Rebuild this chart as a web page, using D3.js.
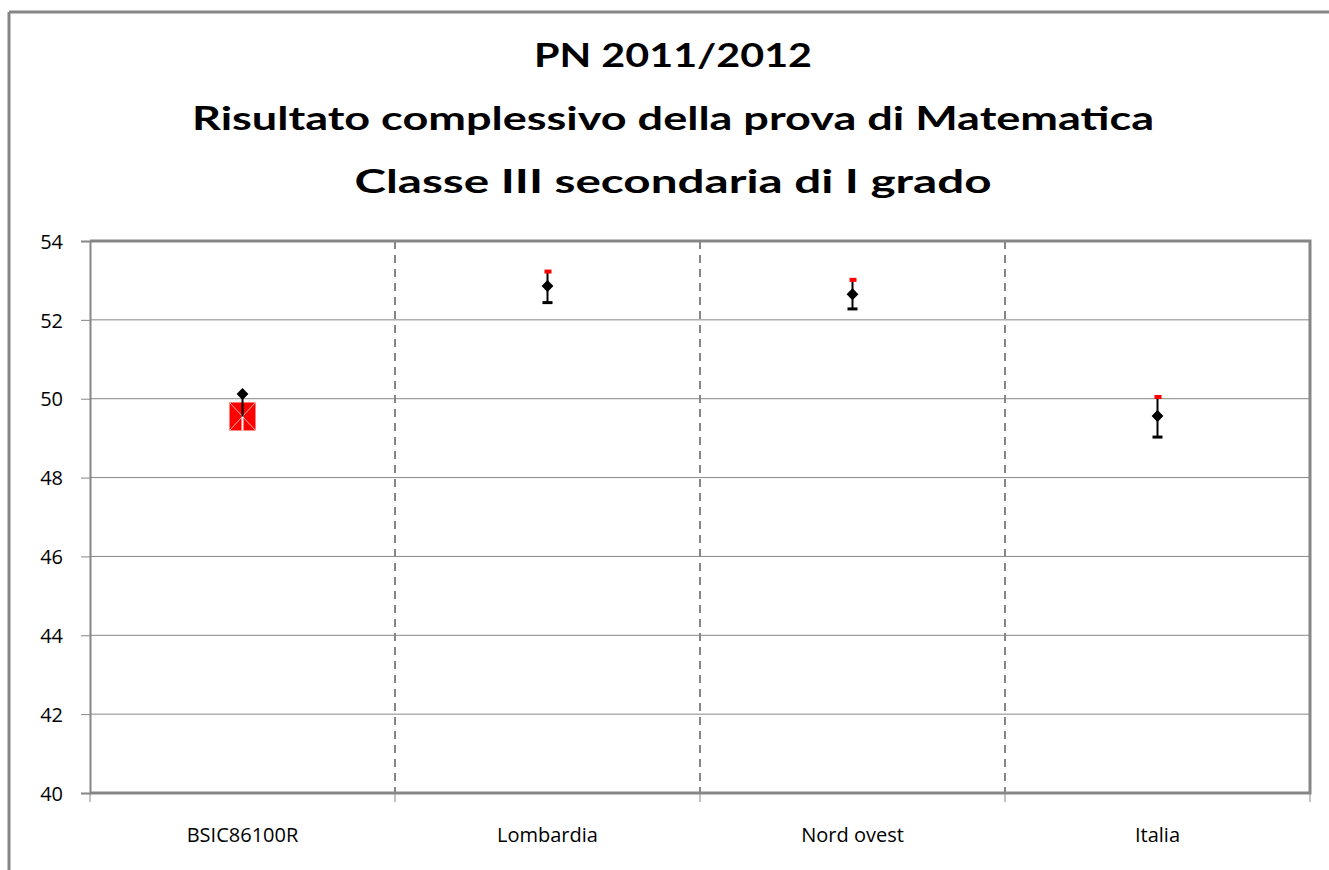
<!DOCTYPE html>
<html>
<head>
<meta charset="utf-8">
<script src="https://cdn.jsdelivr.net/npm/d3@7/dist/d3.min.js"></script>
<style>
body{ margin:0; background:white; }
text{ font-family:"Open Sans", sans-serif; fill:#000; }
</style>
</head>
<body>
<div id="chart"></div>
<script>
// values
var categories = ["BSIC86100R", "Lombardia", "Nord ovest", "Italia"];
var means  = [50.12, 52.86, 52.65, 49.56];
var lower  = [49.55, 52.45, 52.29, 49.04];
var upper  = [50.12, 53.25, 53.04, 50.07];
var school = [49.55, null, null, null];
var yTicks = [40, 42, 44, 46, 48, 50, 52, 54];
var titleLines = ["PN 2011/2012", "Risultato complessivo della prova di Matematica", "Classe III secondaria di I grado"];

var W = 1329, H = 870;
var m = {left: 90, top: 241, right: 1310, bottom: 793};
var grey = "#868686";

var svg = d3.select("#chart").append("svg").attr("width", W).attr("height", H);

// outer chart frame
svg.append("line").attr("x1", 9).attr("x2", 9).attr("y1", 12).attr("y2", H)
  .attr("stroke", grey).attr("stroke-width", 3);
svg.append("line").attr("x1", 9).attr("x2", W).attr("y1", 12).attr("y2", 12)
  .attr("stroke", grey).attr("stroke-width", 3);

// title
var titleWidths = [278, 962, 637];
svg.selectAll("text.title").data(titleLines).enter().append("text")
  .attr("class", "title")
  .attr("x", 673).attr("y", function(d, i){ return 67 + i * 63; })
  .attr("text-anchor", "middle")
  .style("font-family", "Lato").style("font-size", "32px").style("font-weight", "bold")
  .attr("textLength", function(d, i){ return titleWidths[i]; })
  .attr("lengthAdjust", "spacingAndGlyphs")
  .text(function(d){ return d; });

var x = d3.scaleBand().domain(categories).range([m.left, m.right]).padding(0);
var y = d3.scaleLinear().domain([40, 54]).range([m.bottom, m.top]);

// horizontal gridlines
svg.append("g").selectAll("line").data(yTicks.slice(1, -1)).enter().append("line")
  .attr("x1", m.left).attr("x2", m.right)
  .attr("y1", function(d){ return y(d); }).attr("y2", function(d){ return y(d); })
  .attr("stroke", grey).attr("stroke-width", 1);

// dashed separators between categories
svg.append("g").selectAll("line").data(categories.slice(1)).enter().append("line")
  .attr("x1", function(d){ return x(d); }).attr("x2", function(d){ return x(d); })
  .attr("y1", m.top).attr("y2", m.bottom)
  .attr("stroke", grey).attr("stroke-width", 2).attr("stroke-dasharray", "8,6");

// y axis
var yAxis = svg.append("g").attr("transform", "translate(" + m.left + ",0)")
  .call(d3.axisLeft(y).tickValues(yTicks).tickSize(9).tickPadding(18));
yAxis.select(".domain").attr("stroke", grey).attr("stroke-width", 2);
yAxis.selectAll(".tick line").attr("stroke", grey).attr("stroke-width", 1);
yAxis.selectAll(".tick text").style("font-size", "20px").attr("dy", "0.36em")
  .style("font-family", "Open Sans");

// x axis
var xTickPos = [m.left].concat(categories.map(function(c){ return x(c) + x.bandwidth(); }));
svg.append("g").selectAll("line").data(xTickPos).enter().append("line")
  .attr("x1", function(d){ return d; }).attr("x2", function(d){ return d; })
  .attr("y1", m.bottom).attr("y2", m.bottom + 9)
  .attr("stroke", grey).attr("stroke-width", 1);
svg.append("g").selectAll("text").data(categories).enter().append("text")
  .attr("x", function(d){ return x(d) + x.bandwidth() / 2; })
  .attr("y", 842).attr("text-anchor", "middle")
  .style("font-size", "20px")
  .text(function(d){ return d; });

// plot frame (top, right, bottom)
svg.append("path")
  .attr("d", "M" + m.left + "," + m.top + "H" + m.right + "V" + m.bottom + "H" + m.left)
  .attr("fill", "none").attr("stroke", grey).attr("stroke-width", 3);

var cx = function(i){ return x(categories[i]) + x.bandwidth() / 2; };

// school marker: red square with light X
var sq = svg.append("g");
school.forEach(function(v, i){
  if (v == null) return;
  var px = cx(i), py = y(v);
  sq.append("rect").attr("x", px - 13).attr("y", py - 14).attr("width", 26).attr("height", 28)
    .attr("fill", "#ff0000");
  sq.append("path")
    .attr("d", "M" + (px - 13) + "," + (py - 14) + "L" + (px + 13) + "," + (py + 14) +
               "M" + (px + 13) + "," + (py - 14) + "L" + (px - 13) + "," + (py + 14))
    .attr("stroke", "#ffb0b0").attr("stroke-width", 1);
  sq.append("line").attr("x1", px).attr("x2", px).attr("y1", py).attr("y2", py + 14)
    .attr("stroke", "#fff").attr("stroke-width", 2);
});

// error bars
var eb = svg.append("g");
categories.forEach(function(c, i){
  var px = cx(i);
  eb.append("line").attr("x1", px).attr("x2", px)
    .attr("y1", y(upper[i])).attr("y2", y(lower[i]))
    .attr("stroke", "#000").attr("stroke-width", 2);
  if (school[i] == null) {
    eb.append("rect").attr("x", px - 5).attr("y", y(lower[i]) - 1).attr("width", 10).attr("height", 3)
      .attr("fill", "#000");
    eb.append("rect").attr("x", px - 3).attr("y", y(upper[i]) - 1).attr("width", 7).attr("height", 4)
      .attr("fill", "#ff0000");
  }
});

// mean diamonds
svg.append("g").selectAll("path").data(means).enter().append("path")
  .attr("transform", function(d, i){ return "translate(" + cx(i) + "," + y(d) + ")"; })
  .attr("d", d3.symbol().type(d3.symbolDiamond2).size(90))
  .attr("fill", "#000");
</script>
</body>
</html>
